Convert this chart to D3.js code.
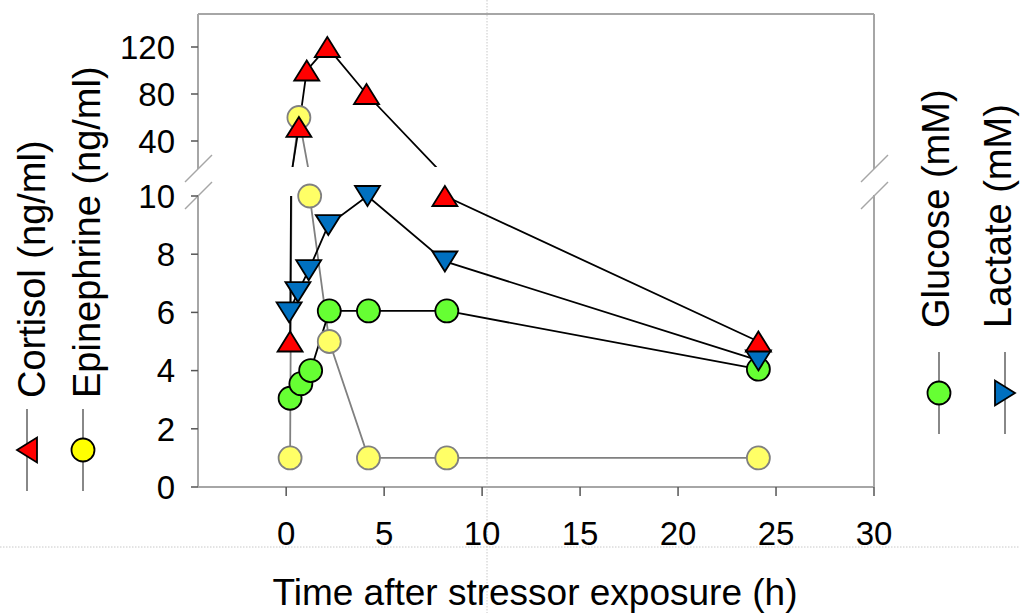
<!DOCTYPE html>
<html>
<head>
<meta charset="utf-8">
<script src="https://cdn.jsdelivr.net/npm/d3@7"></script>
<style>
  body { margin: 0; background: #fff; }
  text { font-family: "Liberation Sans", Arial, sans-serif; fill: #000; }
</style>
</head>
<body>
<div id="chart"></div>
<script>
// Sampling times (h) per series
const cortisolTime    = [0.2, 0.65, 1.05, 2.1, 4.1, 8.1, 24.1];
const epinephrineTime = [0.2, 0.65, 1.2, 2.2, 4.2, 8.2, 24.1];
const glucoseTime     = [0.2, 0.75, 1.25, 2.2, 4.2, 8.2, 24.1];
const lactateTime     = [0.15, 0.6, 1.15, 2.15, 4.15, 8.1, 24.1];

// Values
const cortisol    = [5, 52, 100, 120, 80, 10, 5];
const epinephrine = [1, 60, 10, 5, 1, 1, 1];
const glucose     = [3.05, 3.55, 4.0, 6.05, 6.05, 6.05, 4.05];
const lactate     = [6.0, 6.7, 7.45, 9.0, 10.0, 7.75, 4.35];

// Axis ticks
const xTicks = [0, 5, 10, 15, 20, 25, 30];
const yLowTicks = [0, 2, 4, 6, 8, 10];
const yHighTicks = [40, 80, 120];

const width = 1020, height = 613;
const plotLeft = 198, plotRight = 874, plotTop = 14, plotBottom = 487;
const breakLow = 196, breakHigh = 167; // clip edges of lower / upper panel

const svg = d3.select('#chart')
    .append('svg')
        .attr('width', width)
        .attr('height', height);

// Slide guides (dotted)
svg.append('line')
    .attr('x1', 0).attr('x2', width).attr('y1', 547).attr('y2', 547)
    .attr('stroke', '#c8c8c8').attr('stroke-dasharray', '1.5,1.5');
svg.append('line')
    .attr('x1', 487).attr('x2', 487).attr('y1', 0).attr('y2', height)
    .attr('stroke', '#c8c8c8').attr('stroke-dasharray', '1.5,1.5');

// Scales
const x = d3.scaleLinear().domain([-4.5, 30]).range([plotLeft, plotRight]);
const yLow = d3.scaleLinear().domain([0, 10]).range([plotBottom, breakLow]);
const yHigh = d3.scaleLinear().domain([40, 120]).range([141, 47]);

const series = [
    { name: 'Epinephrine', t: epinephrineTime, v: epinephrine, line: '#808080', fill: '#ffff66', stroke: '#808080', shape: 'circle' },
    { name: 'Glucose', t: glucoseTime, v: glucose, line: '#000', fill: '#66ff33', stroke: '#000', shape: 'circle' },
    { name: 'Lactate', t: lactateTime, v: lactate, line: '#000', fill: '#0070c0', stroke: '#000', shape: 'down' },
    { name: 'Cortisol', t: cortisolTime, v: cortisol, line: '#000', fill: '#ff0000', stroke: '#000', shape: 'up' }
];

// Clip paths for the two panels
const defs = svg.append('defs');
defs.append('clipPath').attr('id', 'clipHigh')
    .append('rect').attr('x', plotLeft).attr('y', plotTop)
    .attr('width', plotRight - plotLeft).attr('height', breakHigh - plotTop);
defs.append('clipPath').attr('id', 'clipLow')
    .append('rect').attr('x', plotLeft).attr('y', breakLow)
    .attr('width', plotRight - plotLeft).attr('height', plotBottom - breakLow);

// Frame with gaps at the break
const frameColor = '#a6a6a6';
const frame = svg.append('g').attr('stroke', frameColor).attr('stroke-width', 2).attr('fill', 'none');
frame.append('path').attr('d', `M${plotLeft},${plotBottom}H${plotRight}`);
frame.append('path').attr('d', `M${plotLeft},${plotTop}H${plotRight}`);
[plotLeft, plotRight].forEach(px => {
    frame.append('path').attr('d', `M${px},${plotTop}V169`);
    frame.append('path').attr('d', `M${px},195V${plotBottom}`);
    frame.append('path').attr('d', `M${px - 13},182L${px + 14},155`).attr('stroke-width', 1.5);
    frame.append('path').attr('d', `M${px - 13},209L${px + 14},182`).attr('stroke-width', 1.5);
});

// X axis ticks & labels
const xa = svg.append('g');
xa.selectAll('line').data(xTicks).enter().append('line')
    .attr('x1', d => x(d)).attr('x2', d => x(d))
    .attr('y1', plotBottom).attr('y2', plotBottom + 9)
    .attr('stroke', '#555').attr('stroke-width', 1.5);
xa.selectAll('text').data(xTicks).enter().append('text')
    .attr('x', d => x(d)).attr('y', 545)
    .attr('text-anchor', 'middle')
    .style('font-size', '33px')
    .text(d => d);

svg.append('text')
    .attr('x', 535).attr('y', 605)
    .attr('text-anchor', 'middle')
    .style('font-size', '37px')
    .text('Time after stressor exposure (h)');

// Y axis ticks & labels
function yTicks(ticks, scale) {
    const g = svg.append('g');
    g.selectAll('line').data(ticks).enter().append('line')
        .attr('x1', plotLeft - 7).attr('x2', plotLeft)
        .attr('y1', d => scale(d)).attr('y2', d => scale(d))
        .attr('stroke', '#555').attr('stroke-width', 1.5);
    g.selectAll('text').data(ticks).enter().append('text')
        .attr('x', 175).attr('y', d => scale(d))
        .attr('dy', '0.36em')
        .attr('text-anchor', 'end')
        .style('font-size', '33px')
        .text(d => d);
}
yTicks(yLowTicks, yLow);
yTicks(yHighTicks, yHigh);

// Lines in both panels
const plot = svg.append('g');
[['clipHigh', yHigh], ['clipLow', yLow]].forEach(([clip, ys]) => {
    const g = plot.append('g').attr('clip-path', `url(#${clip})`);
    series.forEach(s => {
        const line = d3.line().x(i => x(s.t[i])).y(i => ys(s.v[i]));
        g.append('path')
            .attr('d', line(d3.range(s.v.length)))
            .attr('fill', 'none')
            .attr('stroke', s.line)
            .attr('stroke-width', 1.8);
    });
});

// Marker shapes
function shapePath(shape) {
    if (shape === 'up') return 'M0,-10L12.5,10L-12.5,10Z';
    if (shape === 'down') return 'M0,10L12.5,-10L-12.5,-10Z';
    if (shape === 'left') return 'M-10,0L10,-12.5L10,12.5Z';
    if (shape === 'right') return 'M10,0L-10,-12.5L-10,12.5Z';
    return d3.symbol(d3.symbolCircle, Math.PI * 11.5 * 11.5)();
}

series.forEach(s => {
    const pts = d3.range(s.v.length).map(i => ({ t: s.t[i], v: s.v[i] }));
    plot.append('g').selectAll('path').data(pts).enter().append('path')
        .attr('transform', d => `translate(${x(d.t)},${d.v > 10 ? yHigh(d.v) : yLow(d.v)})`)
        .attr('d', shapePath(s.shape))
        .attr('fill', s.fill)
        .attr('stroke', s.stroke)
        .attr('stroke-width', 1.8);
});

// Axis titles with legend symbols
const legends = [
    { label: 'Cortisol (ng/ml)', base: 45, lx: 27, start: 398, cy: 450, fill: '#ff0000', shape: 'left' },
    { label: 'Epinephrine (ng/ml)', base: 100, lx: 83, start: 398, cy: 450, fill: '#ffff00', shape: 'circle' },
    { label: 'Glucose (mM)', base: 949, lx: 939, start: 328, cy: 393, fill: '#66ff33', shape: 'circle' },
    { label: 'Lactate (mM)', base: 1011, lx: 1005, start: 328, cy: 393, fill: '#0070c0', shape: 'right' }
];
legends.forEach(l => {
    svg.append('text')
        .attr('transform', `translate(${l.base},${l.start}) rotate(-90)`)
        .style('font-size', '38px')
        .text(l.label);
    svg.append('line')
        .attr('x1', l.lx).attr('x2', l.lx)
        .attr('y1', l.cy - 41).attr('y2', l.cy + 41)
        .attr('stroke', '#606060').attr('stroke-width', 1.5);
    svg.append('path')
        .attr('transform', `translate(${l.lx},${l.cy})`)
        .attr('d', shapePath(l.shape))
        .attr('fill', l.fill)
        .attr('stroke', '#000')
        .attr('stroke-width', 1.8);
});
</script>
</body>
</html>
